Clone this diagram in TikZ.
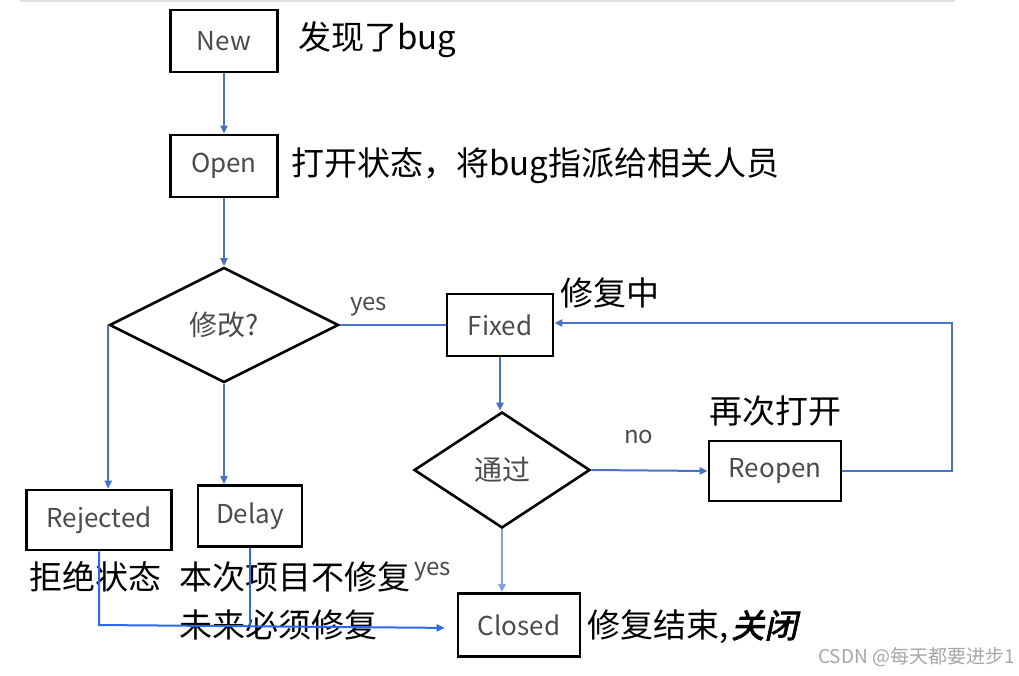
\documentclass[tikz,border=0pt]{standalone}
\usepackage{fontspec}
\setmainfont{Noto Sans CJK SC}
\newfontfamily\cjkbi[FakeSlant=0.22,FakeBold=2.5]{Noto Sans CJK SC}
\usetikzlibrary{shapes.geometric,arrows.meta,calc}
\definecolor{lineblue}{RGB}{72,114,200}
\definecolor{brightblue}{RGB}{45,105,240}
\definecolor{paleblue}{RGB}{130,160,215}
\definecolor{boxtext}{RGB}{75,75,75}
\tikzset{
  x=1pt,y=-1pt,
  statebox/.style={draw=black,line width=2.6pt,text=boxtext,font=\fontsize{26}{26}\selectfont,inner sep=0pt},
  decision/.style={diamond,draw=black,line width=2.6pt,text=boxtext,font=\fontsize{28}{28}\selectfont,inner sep=0pt,aspect=2},
  note/.style={anchor=west,text=black,font=\fontsize{33}{33}\selectfont,inner sep=0pt},
  small/.style={text=boxtext,font=\fontsize{24}{24}\selectfont,inner sep=0pt},
  conn/.style={draw=lineblue,line width=2pt,-{Triangle[length=8pt,width=7pt]}},
  plain/.style={draw=lineblue,line width=2pt},
}
\begin{document}
\begin{tikzpicture}
\useasboundingbox (0,0) rectangle (1019,675);
\draw[line width=2pt,gray!25] (20,1) -- (955,1);

% boxes
\node[statebox,minimum width=107pt,minimum height=62pt] (new) at (224,41) {New};
\node[statebox,minimum width=107pt,minimum height=62pt] (open) at (224,166) {Open};
\node[decision,minimum width=229pt,minimum height=115pt] (d1) at (224,325) {修改?};
\node[statebox,minimum width=106pt,minimum height=62pt] (fixed) at (500,325) {Fixed};
\node[decision,minimum width=176pt,minimum height=116pt] (d2) at (502,470) {通过};
\node[statebox,minimum width=132pt,minimum height=60pt] (reopen) at (775,471) {Reopen};
\node[statebox,minimum width=145pt,minimum height=60pt] (rej) at (99,520) {Rejected};
\node[statebox,minimum width=104pt,minimum height=61pt] (delay) at (250,516) {Delay};
\node[statebox,minimum width=122pt,minimum height=63pt] (closed) at (519,625) {Closed};

% notes
\node[note] (n1) at (298,40) {发现了bug};
\node[note] (n2) at (291,166) {打开状态，将bug指派给相关人员};
\node[note] (n3) at (560,293) {修复中};
\node[note] (n4) at (709,411) {再次打开};
\node[note] (n5) at (29,577) {拒绝状态};
\node[note] (n6) at (179,577) {本次项目不修复};
\node[note] (n7) at (179,625) {未来必须修复};
\node[note] (n8) at (587,627) {修复结束,\hspace{3pt}{\cjkbi 关闭}};
\node[small,anchor=west] (y1) at (350,307) {yes};
\node[small,anchor=west] (y2) at (414,572) {yes};
\node[small,anchor=west] (no) at (624,437) {no};
\node[anchor=east,text=gray!70,font=\fontsize{19}{19}\selectfont,inner sep=0pt] (wm) at (1015,657) {CSDN @每天都要进步1};

% connectors
\draw[conn] (new.south) -- (open.north);
\draw[conn] (open.south) -- (d1.north);
\draw[conn] (d1.west) -- (d1.west |- rej.north);
\draw[conn] (d1.south) -- (d1.south |- delay.north);
\draw[plain] (d1.east) -- (fixed.west);
\draw[conn] (fixed.south) -- (d2.north -| fixed.south);
\draw[conn] (d2.east) -- (reopen.west);
\coordinate (rc) at ($(reopen.east)+(110,0)$);
\draw[conn] (reopen.east) -- (rc) |- ([yshift=2pt]fixed.east);
\draw[conn,draw=paleblue] (d2.south) -- (d2.south |- closed.north);
\coordinate (jn) at (rej.south |- closed.west);
\draw[draw=brightblue,line width=2pt,-{Triangle[length=8pt,width=7pt]},shorten >=12pt] (rej.south) -- (jn) -- ([yshift=-3pt]closed.west);
\draw[draw=brightblue,line width=2pt] (delay.south) -- (delay.south |- jn);
\end{tikzpicture}
\end{document}
